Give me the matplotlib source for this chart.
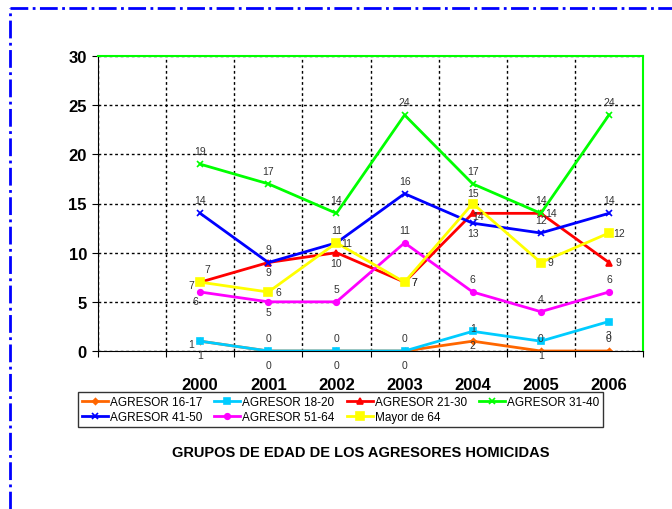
import matplotlib.pyplot as plt
from matplotlib.lines import Line2D

plt.rcParams['font.family'] = ['Liberation Sans', 'DejaVu Sans']

# Data (first category is an empty slot, as in the original chart)
years = ['', '2000', '2001', '2002', '2003', '2004', '2005', '2006']
agr_16_17 = [None, 1, 0, 0, 0, 1, 0, 0]
agr_18_20 = [None, 1, 0, 0, 0, 2, 1, 3]
agr_21_30 = [None, 7, 9, 10, 7, 14, 14, 9]
agr_31_40 = [None, 19, 17, 14, 24, 17, 14, 24]
agr_41_50 = [None, 14, 9, 11, 16, 13, 12, 14]
agr_51_64 = [None, 6, 5, 5, 11, 6, 4, 6]
mayor_64 = [None, 7, 6, 11, 7, 15, 9, 12]

# label texts as they appear on the original
lbl_16_17 = ['1', '0', '0', '0', '1', '0', '0']
lbl_18_20 = ['1', '0', '0', '0', '2', '1', '3']

series = [
    ('AGRESOR 16-17', agr_16_17, lbl_16_17, '#FF6600', 'D', 3,
     ['L', 'A', 'A', 'A', 'A', 'A', 'A']),
    ('AGRESOR 18-20', agr_18_20, lbl_18_20, '#00CCFF', 's', 4,
     ['B', 'B', 'B', 'B', 'B', 'B', 'B']),
    ('AGRESOR 21-30', agr_21_30, None, '#FF0000', '^', 5,
     ['AR', 'b', 'b', 'R', 'r', 'R', 'R']),
    ('AGRESOR 31-40', agr_31_40, None, '#00FF00', 'x', 5,
     ['A', 'A', 'A', 'A', 'A', 'A', 'A']),
    ('AGRESOR 41-50', agr_41_50, None, '#0000FF', 'x', 5,
     ['A', 'A', 'A', 'A', 'b', 'A', 'A']),
    ('AGRESOR 51-64', agr_51_64, None, '#FF00FF', 'o', 4,
     ['BL', 'b', 'A', 'A', 'A', 'A', 'A']),
    ('Mayor de 64', mayor_64, None, '#FFFF00', 's', 6,
     ['L', 'R', 'R', 'R', 'a', 'R', 'R']),
]

# label offsets in pixels (dx, dy)
offs = {'A': (0, 13), 'a': (0, 10), 'B': (0, -14), 'b': (0, -10),
        'R': (10, 0), 'r': (5, -3), 'L': (-9, -3), 'AR': (7, 13),
        'BL': (-5, -9)}

fig = plt.figure(figsize=(6.72, 5.10), dpi=100)
ax = fig.add_axes([98 / 672, 1 - 352 / 510, 545 / 672, 295 / 510])

x = list(range(len(years)))
for name, vals, lbls, col, mk, ms, pos in series:
    ax.plot(x, [v if v is not None else float('nan') for v in vals],
            color=col, marker=mk, markersize=ms, linewidth=2,
            markeredgewidth=1.2, label=name)
    for i, v in enumerate(vals[1:]):
        t = lbls[i] if lbls else str(v)
        dx, dy = offs[pos[i]]
        ax.annotate(t, (i + 1, v), xytext=(dx * 0.72, dy * 0.72),
                    textcoords='offset points', ha='center', va='center',
                    fontsize=7.5, color='#333333')

ax.set_xlim(-0.5, 7.5)
ax.set_ylim(0, 30)
ax.set_yticks(range(0, 31, 5))
ax.set_xticks([i + 0.5 for i in range(-1, 8)])
ax.set_xticklabels([])
ax.set_xticks(x, minor=True)
ax.set_xticklabels(years, minor=True, fontsize=12, fontweight='bold')
ax.tick_params(axis='x', which='minor', length=0, pad=19)
ax.tick_params(axis='x', which='major', length=4, direction='out')
ax.tick_params(axis='y', length=4, direction='out', labelsize=12, pad=4)
for lab in ax.get_yticklabels():
    lab.set_fontweight('bold')

ax.grid(True, which='major', color='black', linestyle=(0, (2, 2)), linewidth=1)
ax.set_axisbelow(True)
ax.spines['top'].set_color('#00FF00')
ax.spines['right'].set_color('#00FF00')
ax.spines['top'].set_linewidth(1.5)
ax.spines['right'].set_linewidth(1.5)

# legend filled row by row, as in the original
handles, labels = ax.get_legend_handles_labels()
order = [0, 4, 1, 5, 2, 6, 3]
fig.legend([handles[i] for i in order], [labels[i] for i in order],
           loc='lower left', bbox_to_anchor=(78 / 672, 1 - 428 / 510, 525 / 672, 37 / 510),
           mode='expand', ncol=4, fontsize=8.5, frameon=True, fancybox=False,
           edgecolor='black', handlelength=2.2, handletextpad=0.2,
           borderpad=0.3, labelspacing=0.3, borderaxespad=0)

fig.text(361 / 672, 1 - 453 / 510, 'GRUPOS DE EDAD DE LOS AGRESORES HOMICIDAS',
         ha='center', va='center', fontsize=10.5, fontweight='bold')

# dash-dot page border (top and left edges)
fig.add_artist(Line2D([10 / 672, 1], [1 - 9 / 510, 1 - 9 / 510], color='#0000FF',
                      linewidth=2, linestyle='-.'))
fig.add_artist(Line2D([10 / 672, 10 / 672], [0, 1 - 9 / 510], color='#0000FF',
                      linewidth=2, linestyle='-.'))

fig.savefig('out.png', dpi=100)
